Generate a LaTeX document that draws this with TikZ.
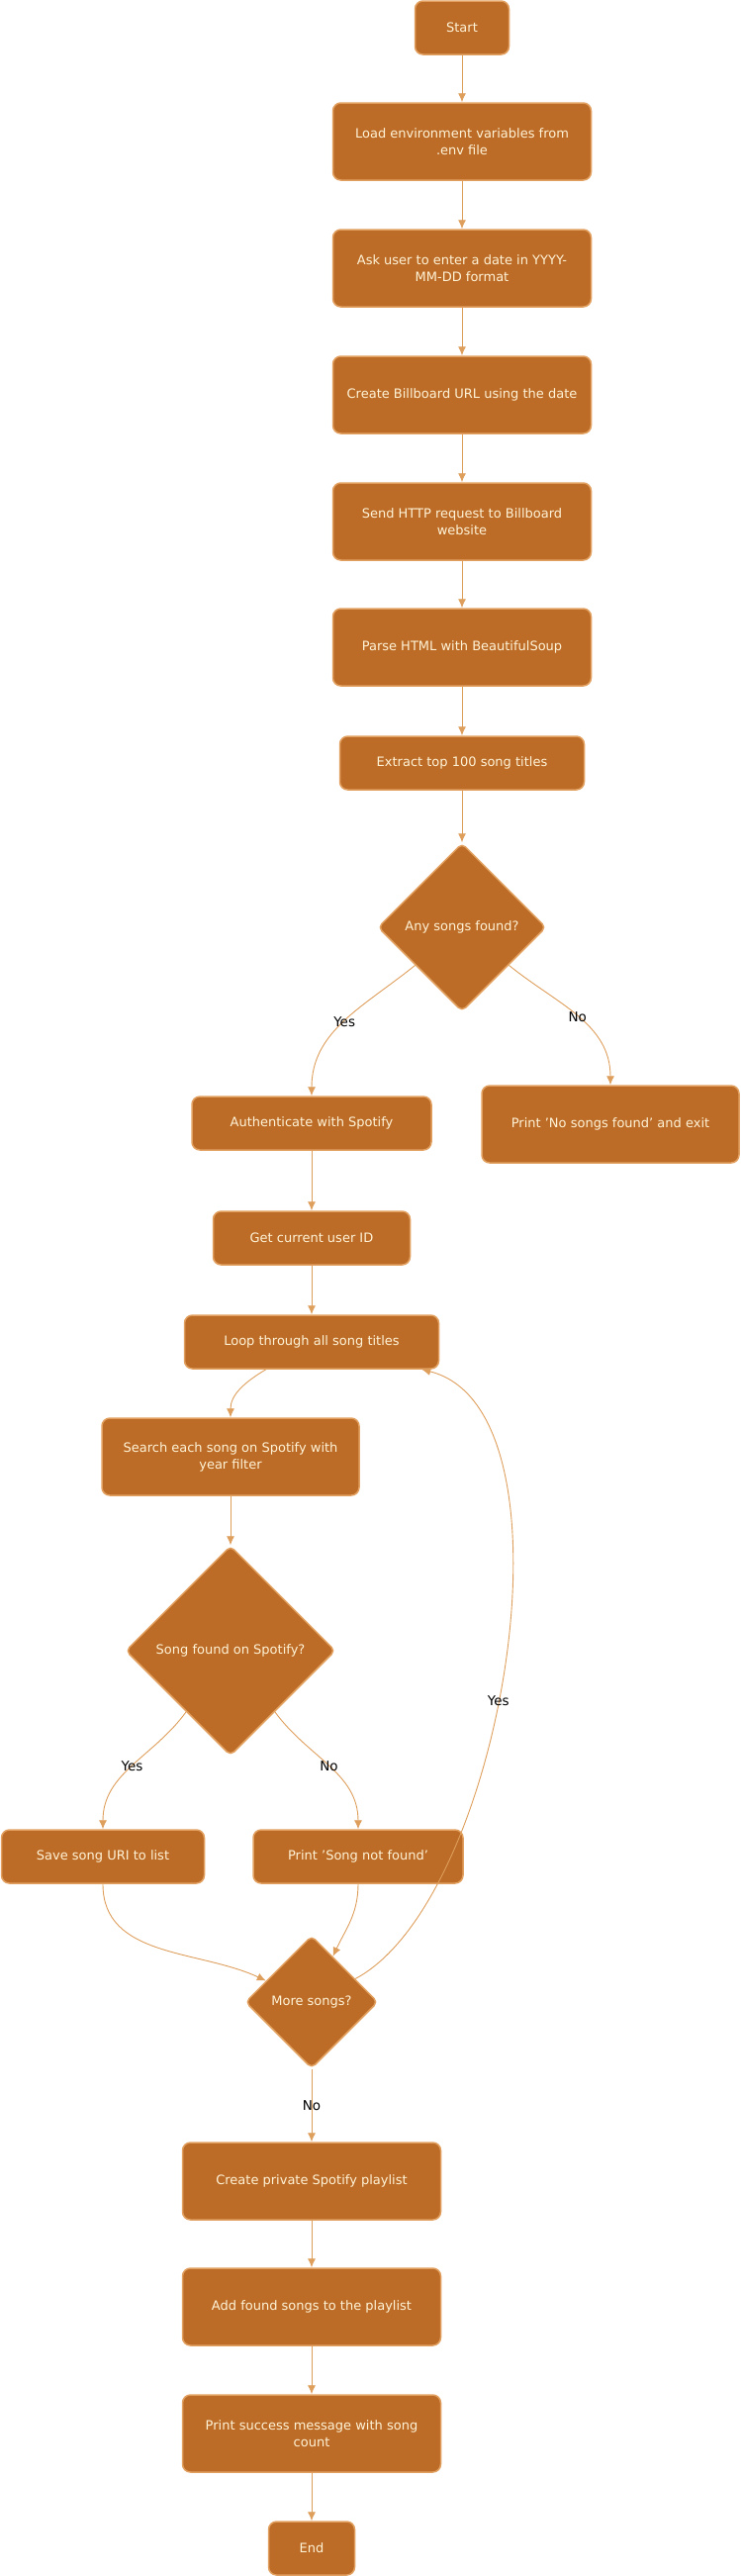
\documentclass[tikz,border=0pt]{standalone}
\usepackage{fontspec}
\setmainfont{DejaVu Sans}
\usepackage{tikz}
\usetikzlibrary{arrows.meta,shapes,positioning}
\definecolor{boxfill}{RGB}{188,108,39}
\definecolor{boxline}{RGB}{226,160,96}
\definecolor{boxtext}{RGB}{255,243,215}
\definecolor{arrowc}{RGB}{222,158,92}
\tikzstyle{block1} = [rectangle, draw=boxline, fill=boxfill, text=boxtext, line width=1.5pt, rounded corners=8pt, align=center, minimum height=54pt, font=\fontsize{13}{17}\selectfont]
\tikzstyle{block2} = [block1, minimum width=261pt, minimum height=78pt]
\tikzstyle{block3} = [diamond, draw=boxline, fill=boxfill, text=boxtext, line width=1.5pt, rounded corners=5pt, inner sep=1pt, font=\fontsize{13}{17}\selectfont]
\tikzstyle{link} = [->, draw=arrowc, line width=0.9pt]
\tikzstyle{lbl} = [text=black, inner sep=1pt, font=\fontsize{13.5}{17}\selectfont]

\begin{document}
\begin{tikzpicture}[x=1pt, y=1pt, >={Latex[length=9pt,width=8pt]}]
        \useasboundingbox (0,0) rectangle (748,-2603);

        \node[block1, minimum width=95pt] (st) at (467,-28) {Start};
        \node[block2, below of=st, node distance=115pt] (env) {Load environment variables from\\.env file};
        \node[block2, below of=env, node distance=128pt] (date) {Ask user to enter a date in YYYY-\\MM-DD format};
        \node[block2, below of=date, node distance=128pt] (url) {Create Billboard URL using the date};
        \node[block2, below of=url, node distance=128pt] (req) {Send HTTP request to Billboard\\website};
        \node[block2, below of=req, node distance=127pt] (parse) {Parse HTML with BeautifulSoup};
        \node[block1, minimum width=247pt, below of=parse, node distance=117pt] (top) {Extract top 100 song titles};
        \node[block3, minimum width=170pt, minimum height=170pt, below of=top, node distance=166pt] (q1) {Any songs found?};

        \node[block1, minimum width=242pt, below of=q1, node distance=198pt, xshift=-152pt] (auth) {Authenticate with Spotify};
        \node[block2, minimum width=260pt, below of=q1, node distance=199pt, xshift=150pt] (nf) {Print 'No songs found' and exit};
        \node[block1, minimum width=199pt, below of=auth, node distance=116pt] (uid) {Get current user ID};
        \node[block1, minimum width=257pt, below of=uid, node distance=105pt] (loop) {Loop through all song titles};
        \node[block2, minimum width=260pt, below of=loop, node distance=116pt, xshift=-82pt] (srch) {Search each song on Spotify with\\year filter};
        \node[block3, minimum width=212pt, minimum height=212pt, below of=srch, node distance=196pt] (q2) {Song found on Spotify?};

        \node[block1, minimum width=205pt, below of=q2, node distance=208pt, xshift=-129pt] (save) {Save song URI to list};
        \node[block1, minimum width=212pt, below of=q2, node distance=208pt, xshift=129pt] (miss) {Print 'Song not found'};
        \node[block3, minimum width=134pt, minimum height=134pt, below of=q2, node distance=355pt, xshift=82pt] (q3) {More songs?};

        \node[block2, below of=q3, node distance=181pt] (mk) {Create private Spotify playlist};
        \node[block2, below of=mk, node distance=127pt] (add) {Add found songs to the playlist};
        \node[block2, below of=add, node distance=128pt] (msg) {Print success message with song\\count};
        \node[block1, minimum width=87pt, below of=msg, node distance=116pt] (en) {End};

        \draw[link] (st) -- (env);
        \draw[link] (env) -- (date);
        \draw[link] (date) -- (url);
        \draw[link] (url) -- (req);
        \draw[link] (req) -- (parse);
        \draw[link] (parse) -- (top);
        \draw[link] (top) -- (q1);
        \draw[link] (q1) to[out=219, in=90] node[lbl, pos=0.5] {Yes} (auth);
        \draw[link] (q1) to[out=-39, in=90] node[lbl, pos=0.5] {No} (nf);
        \draw[link] (auth) -- (uid);
        \draw[link] (uid) -- (loop);
        \draw[link] (loop) to[out=211, in=90] (srch);
        \draw[link] (srch) -- (q2);
        \draw[link] (q2) to[out=234, in=90] node[lbl, pos=0.5] {Yes} (save);
        \draw[link] (q2) to[out=-54, in=90] node[lbl, pos=0.5] {No} (miss);
        \draw[link] (save) to[out=-90, in=155] (q3);
        \draw[link] (miss) to[out=-90, in=65] (q3);
        \draw[link] (q3) to[out=28, in=-14, looseness=0.7] node[lbl, pos=0.45] {Yes} (loop);
        \draw[link] (q3) -- node[lbl] {No} (mk);
        \draw[link] (mk) -- (add);
        \draw[link] (add) -- (msg);
        \draw[link] (msg) -- (en);
    \end{tikzpicture}
\end{document}
